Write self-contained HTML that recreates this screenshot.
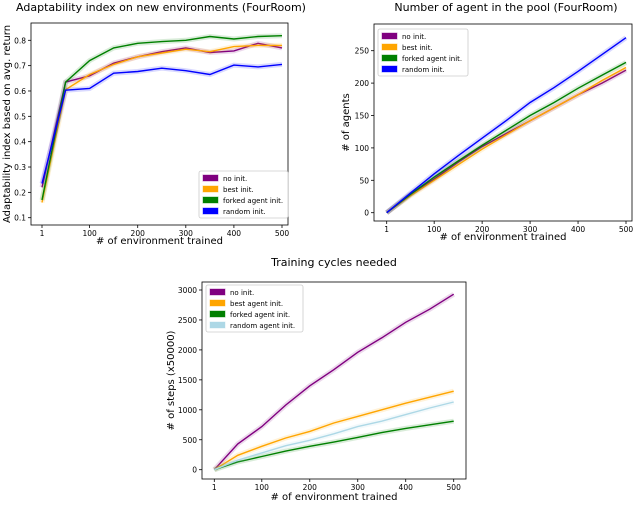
<!DOCTYPE html>
<html><head><meta charset="utf-8"><style>
body{margin:0;background:#fff;width:640px;height:504px;overflow:hidden}
svg{font-family:"DejaVu Sans","Liberation Sans",sans-serif}
</style></head><body>
<svg id="s" width="640" height="504"></svg>
<script>
const xs=[1,50,100,150,200,250,300,350,400,450,500];
const xTicks=[1,100,200,300,400,500];
const c1No=[0.22,0.635,0.66,0.71,0.735,0.755,0.77,0.752,0.758,0.788,0.77];
const c1Best=[0.16,0.605,0.665,0.705,0.735,0.75,0.765,0.755,0.775,0.78,0.78];
const c1Fork=[0.17,0.635,0.72,0.77,0.788,0.795,0.8,0.815,0.805,0.815,0.818];
const c1Rand=[0.235,0.603,0.61,0.67,0.677,0.69,0.68,0.665,0.702,0.695,0.705];
const c1Ticks=[0.1,0.2,0.3,0.4,0.5,0.6,0.7,0.8];
const c2No=[0,28,52,78,102,122,142,162,182,200,220];
const c2Best=[0,26,50,74,98,120,142,162,182,204,224];
const c2Fork=[0,28,55,80,104,127,150,170,192,212,232];
const c2Rand=[0,30,60,88,115,142,170,193,218,244,270];
const c2Ticks=[0,50,100,150,200,250];
const c3No=[0,430,720,1080,1400,1670,1960,2200,2460,2680,2930];
const c3Best=[0,240,390,530,640,780,890,1000,1110,1210,1310];
const c3Fork=[0,130,220,310,390,460,540,620,690,750,810];
const c3Rand=[0,160,280,400,490,600,720,810,920,1030,1130];
const c3Ticks=[0,500,1000,1500,2000,2500,3000];

const S=document.getElementById('s');const NS='http://www.w3.org/2000/svg';
function el(t,a,p){const e=document.createElementNS(NS,t);for(const k in a)e.setAttribute(k,a[k]);(p||S).appendChild(e);return e;}
function txt(x,y,s,size,anchor,extra){const e=el('text',Object.assign({x:x,y:y,'font-size':size,'text-anchor':anchor||'middle',fill:'#000'},extra||{}));e.textContent=s;return e;}
function chart(o){
  const g=el('g',{});
  
  
  const X=v=>o.x0+(v-1)/(499)*(o.x1-o.x0);
  const Y=v=>o.y0+(v-o.v0)/(o.v1-o.v0)*(o.y1-o.y0);
  const t=txt(o.tx,o.ty,o.title,11,'middle');g.appendChild(t);
  xTicks.forEach(v=>{const x=X(v);el('line',{x1:x,x2:x,y1:o.B,y2:o.B+3,stroke:'#000','stroke-width':0.8},g);const e=txt(x,o.B+11,String(v),7.5,'middle');g.appendChild(e);});
  o.yt.forEach(v=>{const y=Y(v);el('line',{x1:o.L-3,x2:o.L,y1:y,y2:y,stroke:'#000','stroke-width':0.8},g);const e=txt(o.L-5,y+3,o.fmt(v),7.5,'end');g.appendChild(e);});
  const xl=txt((o.L+o.R)/2,o.B+o.xo,'# of environment trained',10,'middle');g.appendChild(xl);
  const yc=(o.T+o.B)/2;const yl=txt(o.ylx,yc,o.ylab,10,'middle',{transform:`rotate(-90 ${o.ylx} ${yc})`});g.appendChild(yl);
  o.series.forEach(s=>{
    const pts=s.d.map((v,i)=>X(xs[i]).toFixed(1)+','+Y(v).toFixed(1)).join(' ');
    el('polyline',{points:pts,fill:'none',stroke:s.c,'stroke-width':5,'stroke-opacity':0.15},g);
    const p=el('polyline',{points:pts,fill:'none',stroke:s.c,'stroke-width':1.4},g);
    
    
  });
  el('rect',{x:o.L,y:o.T,width:o.R-o.L,height:o.B-o.T,fill:'none',stroke:'#000','stroke-width':0.8},g);
  const lg=el('g',{},g);
  
  
  el('rect',{x:o.lx,y:o.ly,width:o.lw,height:o.series.length*11+3,fill:'#fff',stroke:'#ccc','stroke-width':0.8,rx:2},lg);
  o.series.forEach((s,i)=>{const y=o.ly+7+i*11;
    el('rect',{x:o.lx+4,y:y-3,width:15,height:6,fill:s.c,stroke:s.c,'stroke-opacity':0.4},lg);
    const e=txt(o.lx+24,y+3,s.label,7,'start');lg.appendChild(e);});
}
chart({name:'adaptability-chart',title:'Adaptability index on new environments (FourRoom)',tx:161,ty:11,L:31,R:288,T:23,B:225,xo:19,x0:42,x1:282,y0:217.7,y1:40.3,v0:0.1,v1:0.8,yt:c1Ticks,fmt:v=>v.toFixed(1),ylab:'Adaptability index based on avg. return',ylx:10,
 lx:199,ly:171,lw:89,series:[{k:'no-init',c:'#800080',d:c1No,label:'no init.'},{k:'best-init',c:'#ffa500',d:c1Best,label:'best init.'},{k:'forked-init',c:'#008000',d:c1Fork,label:'forked agent init.'},{k:'random-init',c:'#0000ff',d:c1Rand,label:'random init.'}]});
chart({name:'agent-pool-chart',title:'Number of agent in the pool (FourRoom)',tx:506,ty:11,L:374,R:632,T:24,B:221,xo:19,x0:386.7,x1:626,y0:212.7,y1:50.7,v0:0,v1:250,yt:c2Ticks,fmt:v=>String(v),ylab:'# of agents',ylx:349,
 lx:378,ly:29,lw:90,series:[{k:'no-init',c:'#800080',d:c2No,label:'no init.'},{k:'best-init',c:'#ffa500',d:c2Best,label:'best init.'},{k:'forked-init',c:'#008000',d:c2Fork,label:'forked agent init.'},{k:'random-init',c:'#0000ff',d:c2Rand,label:'random init.'}]});
chart({name:'training-cycles-chart',title:'Training cycles needed',tx:334,ty:266,L:202,R:466,T:282,B:479,xo:21,x0:214.3,x1:453.7,y0:469.7,y1:290,v0:0,v1:3000,yt:c3Ticks,fmt:v=>String(v),ylab:'# of steps (x50000)',ylx:174,
 lx:206,ly:285,lw:97,series:[{k:'no-init',c:'#800080',d:c3No,label:'no init.'},{k:'best-init',c:'#ffa500',d:c3Best,label:'best agent init.'},{k:'forked-init',c:'#008000',d:c3Fork,label:'forked agent init.'},{k:'random-init',c:'#add8e6',d:c3Rand,label:'random agent init.'}]});
</script>
</body></html>
